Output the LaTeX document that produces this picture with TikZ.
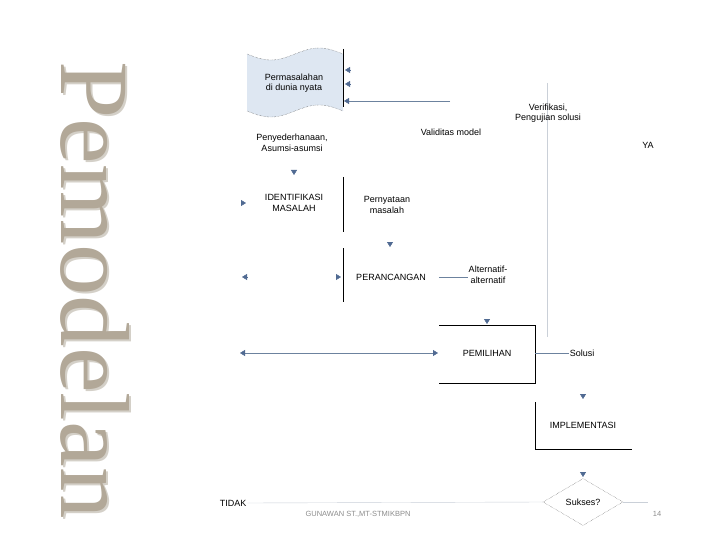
\documentclass[tikz,border=0pt]{standalone}
\usepackage{graphicx}
\usepackage{fontspec}
\setmainfont{Liberation Sans}
\newfontfamily\titlefont{Liberation Serif}
\usetikzlibrary{calc,arrows.meta,shapes.geometric}
\definecolor{headblue}{RGB}{80,106,146}
\definecolor{lineblue}{RGB}{108,130,158}
\definecolor{paleline}{RGB}{202,208,216}
\definecolor{tapefill}{RGB}{222,231,242}
\definecolor{titlegray}{RGB}{178,168,152}
\definecolor{titleshade}{RGB}{212,208,200}
\def\headat(#1)(#2){\draw[headblue,-{Triangle[width=6pt,length=5pt]}] ($(#1)+(#2)$) -- (#1);}
\def\titleword{\rotatebox{-90}{\scalebox{1.05}[1]{Pemodelan}}}

\begin{document}
\begin{tikzpicture}[x=1pt,y=-1pt,font=\fontsize{9}{10.5}\selectfont,
		lbl/.style={align=center,inner sep=1pt},
		titletext/.style={inner sep=0pt,anchor=north west,font=\titlefont\fontsize{98}{98}\selectfont},
		tip/.style={-{Triangle[width=6pt,length=5pt,color=headblue]}}]
		%%%%% START %%%%%
		\useasboundingbox (0,0) rectangle (720,540);
		
		\node[titletext,text=titleshade] at (62,63) {\titleword};
		\node[titletext,text=titlegray] (title) at (60,61) {\titleword};
		
		\fill[tapefill] plot[domain=0:1,samples=40] ({247+96*\x},{54+6*sin(360*\x)}) -- plot[domain=1:0,samples=40] ({247+96*\x},{111+6*sin(360*\x)}) -- cycle;
		\draw[densely dotted,black!70] plot[domain=0:1,samples=40] ({247+96*\x},{54+6*sin(360*\x)});
		\draw[densely dotted,black!70] plot[domain=0:1,samples=40] ({247+96*\x},{111+6*sin(360*\x)});
		\draw (343,49) -- (343,107);
		\node[lbl] (tape) at (294,83) {Permasalahan\\di dunia nyata};
		
		\headat(345,70)(5,0)
		\headat(345,84)(5,0)
		\coordinate (valid) at (450,101);
		\coordinate (tapein) at (344,101);
		\draw[lineblue,tip] (valid) -- (tapein);
		
		\draw[paleline] (547,83) -- (547,337);
		\node[lbl] (penyederhanaan) at (292,143) {Penyederhanaan,\\Asumsi-asumsi};
		\node[lbl] (validitas) at (451,132) {Validitas model};
		\node[lbl] (verifikasi) at (548,113) {Verifikasi,\\Pengujian solusi};
		\node[lbl] (ya) at (648,145) {YA};
		
		\headat(294,175)(0,-5)
		\node[lbl] (identifikasi) at (294,203) {IDENTIFIKASI\\MASALAH};
		\headat(246,203)(-5,0)
		\draw (343,177) -- (343,232);
		\node[lbl] (pernyataan) at (387,205) {Pernyataan\\masalah};
		
		\headat(390,247)(0,-5)
		\draw (343,248) -- (343,302);
		\headat(341,277)(-5,0)
		\headat(242,277)(5,0)
		\node[lbl] (perancangan) at (391,277) {PERANCANGAN};
		\node[lbl] (alternatif) at (488,275) {Alternatif-\\alternatif};
		\draw[lineblue] ($(perancangan.east)+(12,0)$) -- (perancangan.east -| alternatif.west);
		
		\headat(487,324)(0,-5)
		\draw (439,325) -- (535,325) -- (535,383) -- (439,383);
		\node[lbl] (pemilihan) at (487,353) {PEMILIHAN};
		\coordinate (kiri) at (240,353);
		\coordinate (pilihin) at (438,353);
		\draw[lineblue,{Triangle[width=6pt,length=5pt,color=headblue]}-{Triangle[width=6pt,length=5pt,color=headblue]}] (kiri) -- (pilihin);
		\node[lbl] (solusi) at (582,353) {Solusi};
		\draw[lineblue] (535,353) -- (solusi.west);
		
		\headat(583,399)(0,-5)
		\draw (535,402) -- (535,449) -- (632,449);
		\node[lbl] (implementasi) at (583,425) {IMPLEMENTASI};
		
		\headat(583,477)(0,-5)
		\node[diamond,draw=black!70,densely dotted,minimum width=80pt,minimum height=47pt,inner sep=0pt] (sukses) at (583,502) {Sukses?};
		\node[lbl] (tidak) at (233,503) {TIDAK};
		\coordinate (yaend) at (648,502);
		\draw[paleline] (tidak.east) -- (sukses.west);
		\draw[paleline] (sukses.east) -- (yaend);
		
		\node[text=black!45,font=\fontsize{7.5}{8}\selectfont] (footer) at (358,514) {GUNAWAN ST.,MT-STMIKBPN};
		\node[text=black!45,font=\fontsize{7.5}{8}\selectfont] (pagenum) at (657,514) {14};
		%%%%% END %%%%%
	\end{tikzpicture}
\end{document}
